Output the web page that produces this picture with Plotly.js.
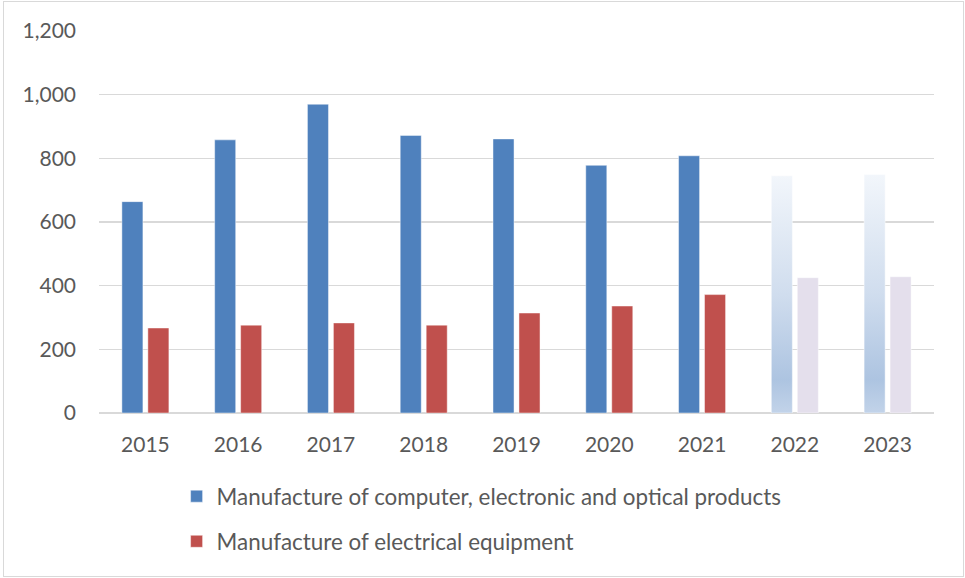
<!DOCTYPE html>
<html>
<head>
<meta charset="utf-8">
<script src="https://cdn.plot.ly/plotly-3.0.1.min.js"></script>
<style>
  html, body { margin: 0; padding: 0; background: #ffffff; }
  #wrap { position: relative; width: 965px; height: 578px; }
  #chart { position: absolute; left: 0; top: 0; width: 965px; height: 578px; }
  #frame {
    position: absolute; left: 3px; top: 1px; width: 961px; height: 576px;
    box-sizing: border-box; border: 1.5px solid #d9d9d9; pointer-events: none;
  }
</style>
</head>
<body>
<div id="wrap">
  <div id="chart"></div>
  <div id="frame"></div>
</div>
<script>
// Annual values by manufacturing branch
const years = ['2015', '2016', '2017', '2018', '2019', '2020', '2021', '2022', '2023'];
const computerValues = [664, 858, 970, 872, 861, 778, 808, 745, 749];
const electricalValues = [267, 276, 283, 276, 314, 336, 372, 425, 428];
const projectedYears = ['2022', '2023'];

const seriesNames = [
  'Manufacture of computer, electronic and optical products',
  'Manufacture of electrical equipment'
];

const BLUE = '#4f81bd';
const RED = '#c0504d';
const BLUE_PROJ = '#c9d7eb';
const RED_PROJ = '#e4dfec';

const isProjected = years.map(y => projectedYears.includes(y));
const FONT = 'Lato, "Open Sans", "DejaVu Sans", sans-serif';
const TEXT = '#595959';

const traces = [
  {
    type: 'bar', name: seriesNames[0], x: years, y: computerValues,
    legendgroup: 'a',
    marker: {
      color: isProjected.map(p => p ? BLUE_PROJ : BLUE),
      line: { color: 'rgba(255,255,255,0.45)', width: 1 }
    },
    hoverinfo: 'x+y'
  },
  {
    type: 'bar', name: seriesNames[1], x: years, y: electricalValues,
    legendgroup: 'b',
    marker: {
      color: isProjected.map(p => p ? RED_PROJ : RED),
      line: { color: 'rgba(255,255,255,0.45)', width: 1 }
    },
    hoverinfo: 'x+y'
  }
];

const layout = {
  width: 965, height: 578,
  margin: { l: 99, r: 31, t: 31, b: 165, autoexpand: false },
  paper_bgcolor: '#ffffff', plot_bgcolor: '#ffffff',
  font: { family: FONT, size: 21, color: TEXT },
  barmode: 'group', bargap: 0.44, bargroupgap: 0.19,
  showlegend: true,
  legend: {
    orientation: 'v', traceorder: 'grouped', tracegroupgap: 13,
    xref: 'container', yref: 'container',
    x: 0.183, y: 0.178, xanchor: 'left', yanchor: 'top',
    font: { family: FONT, size: 22.4, color: TEXT },
    bgcolor: 'rgba(0,0,0,0)'
  },
  xaxis: {
    type: 'category', showgrid: false, showline: false, zeroline: false,
    ticks: '', tickangle: 0, ticklabelstandoff: 17,
    tickfont: { family: FONT, size: 21, color: TEXT }
  },
  yaxis: {
    range: [0, 1200], dtick: 200, tick0: 0, tickformat: ',d',
    showgrid: true, gridcolor: '#d9d9d9', gridwidth: 1.3,
    zeroline: true, zerolinecolor: '#d9d9d9', zerolinewidth: 1.5,
    showline: false, ticks: '', ticklabelstandoff: 22,
    tickfont: { family: FONT, size: 21, color: TEXT }
  }
};

// Soft vertical fade for the projected computer-products bars
function applyProjectedFade(gd) {
  const svg = gd.querySelector('.main-svg');
  if (!svg) return;
  let defs = svg.querySelector('defs');
  if (!defs) {
    defs = document.createElementNS('http://www.w3.org/2000/svg', 'defs');
    svg.insertBefore(defs, svg.firstChild);
  }
  if (!defs.querySelector('#projFade')) {
    const ns = 'http://www.w3.org/2000/svg';
    const grad = document.createElementNS(ns, 'linearGradient');
    grad.setAttribute('id', 'projFade');
    grad.setAttribute('x1', '0'); grad.setAttribute('y1', '0');
    grad.setAttribute('x2', '0'); grad.setAttribute('y2', '1');
    [['0', '#f2f6fb'], ['0.5', '#d0ddee'], ['0.86', '#adc4e1'], ['1', '#c2d3e9']].forEach(([o, c]) => {
      const s = document.createElementNS(ns, 'stop');
      s.setAttribute('offset', o); s.setAttribute('stop-color', c);
      grad.appendChild(s);
    });
    defs.appendChild(grad);
  }
  const traceGroups = gd.querySelectorAll('.barlayer .trace');
  if (!traceGroups.length) return;
  const pts = traceGroups[0].querySelectorAll('.point path');
  pts.forEach((p, i) => {
    if (isProjected[i]) p.style.fill = 'url(#projFade)';
  });
}

const gd = document.getElementById('chart');
Plotly.newPlot(gd, traces, layout, { displayModeBar: false, staticPlot: true })
  .then(() => {
    applyProjectedFade(gd);
    gd.on('plotly_afterplot', () => applyProjectedFade(gd));
  });
</script>
</body>
</html>
